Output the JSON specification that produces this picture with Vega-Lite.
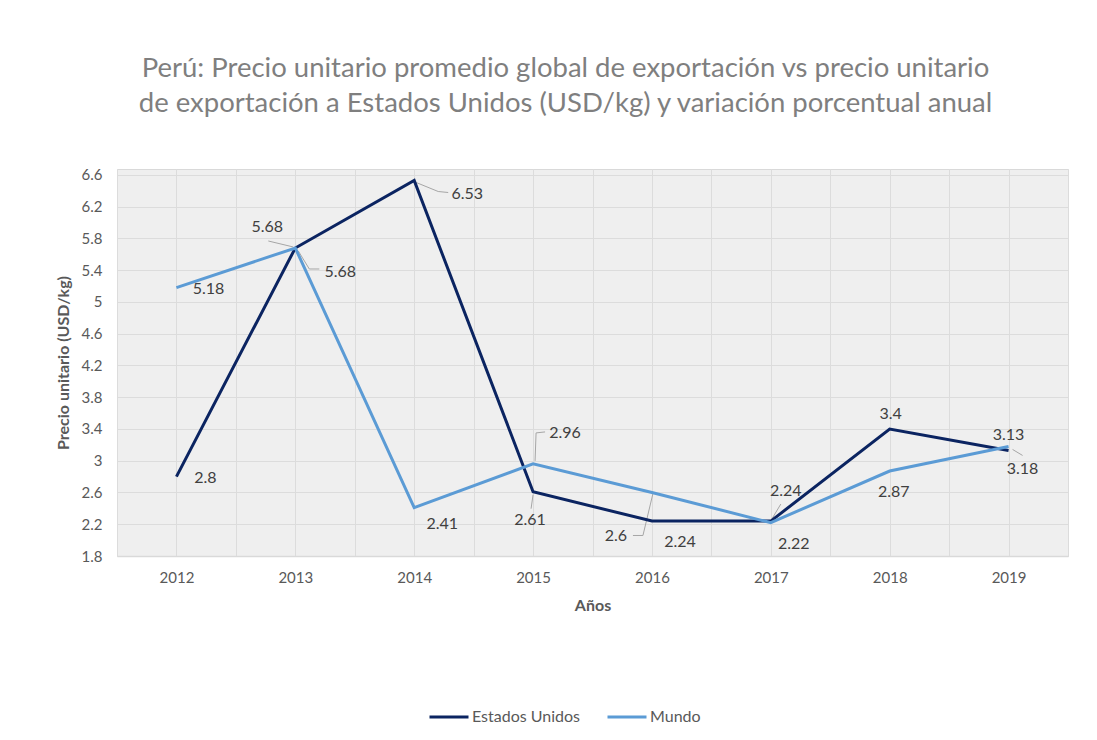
{
  "$schema": "https://vega.github.io/schema/vega-lite/v6.json",
  "width": 951,
  "height": 387,
  "autosize": {"type": "none"},
  "padding": {"left": 117, "top": 169, "right": 29, "bottom": 184},
  "background": "white",
  "config": {
    "font": "Lato",
    "view": {"fill": "#efefef", "stroke": "#d9d9d9", "strokeWidth": 1}
  },
  "title": {
    "text": ["Perú: Precio unitario promedio global de exportación vs precio unitario", "de exportación a Estados Unidos (USD/kg) y variación porcentual anual"],
    "font": "Lato",
    "fontSize": 27.5,
    "fontWeight": "normal",
    "color": "#7f7f7f",
    "lineHeight": 35,
    "anchor": "middle",
    "dx": -27,
    "offset": 50
  },
  "data": {
    "values": [
      {"year": 2012, "serie": "Estados Unidos", "valor": 2.8},
      {"year": 2013, "serie": "Estados Unidos", "valor": 5.68},
      {"year": 2014, "serie": "Estados Unidos", "valor": 6.53},
      {"year": 2015, "serie": "Estados Unidos", "valor": 2.61},
      {"year": 2016, "serie": "Estados Unidos", "valor": 2.24},
      {"year": 2017, "serie": "Estados Unidos", "valor": 2.24},
      {"year": 2018, "serie": "Estados Unidos", "valor": 3.4},
      {"year": 2019, "serie": "Estados Unidos", "valor": 3.13},
      {"year": 2012, "serie": "Mundo", "valor": 5.18},
      {"year": 2013, "serie": "Mundo", "valor": 5.68},
      {"year": 2014, "serie": "Mundo", "valor": 2.41},
      {"year": 2015, "serie": "Mundo", "valor": 2.96},
      {"year": 2016, "serie": "Mundo", "valor": 2.6},
      {"year": 2017, "serie": "Mundo", "valor": 2.22},
      {"year": 2018, "serie": "Mundo", "valor": 2.87},
      {"year": 2019, "serie": "Mundo", "valor": 3.18}
    ]
  },
  "encoding": {
    "x": {
      "field": "year",
      "type": "quantitative",
      "scale": {"domain": [2011.5, 2019.5], "nice": false, "zero": false},
      "axis": {
        "title": "Años",
        "values": [2011.5, 2012, 2012.5, 2013, 2013.5, 2014, 2014.5, 2015, 2015.5, 2016, 2016.5, 2017, 2017.5, 2018, 2018.5, 2019, 2019.5],
        "labelExpr": "datum.value % 1 == 0 ? '' + datum.value : ''",
        "labelOverlap": false,
        "labelFlush": false,
        "ticks": false,
        "grid": true,
        "gridColor": "#dcdcdc",
        "gridWidth": 1,
        "domain": true,
        "domainColor": "#d9d9d9",
        "domainWidth": 1.5,
        "labelFont": "Lato",
        "labelFontSize": 15,
        "labelColor": "#595959",
        "labelPadding": 14,
        "titleFont": "Lato",
        "titleFontSize": 16,
        "titleFontWeight": "bold",
        "titleColor": "#595959",
        "titlePadding": 12
      }
    },
    "y": {
      "field": "valor",
      "type": "quantitative",
      "scale": {"domain": [1.8, 6.675], "nice": false, "zero": false},
      "axis": {
        "title": "Precio unitario (USD/kg)",
        "values": [1.8, 2.2, 2.6, 3, 3.4, 3.8, 4.2, 4.6, 5, 5.4, 5.8, 6.2, 6.6],
        "format": ".1~f",
        "ticks": false,
        "domain": false,
        "grid": true,
        "gridColor": "#dcdcdc",
        "gridWidth": 1,
        "labelFont": "Lato",
        "labelFontSize": 15,
        "labelColor": "#595959",
        "labelPadding": 15,
        "titleFont": "Lato",
        "titleFontSize": 16,
        "titleFontWeight": "bold",
        "titleColor": "#595959",
        "titlePadding": 10
      }
    }
  },
  "layer": [
    {"transform": [{"filter": "datum.serie == 'Estados Unidos' && datum.year == 2013"}], "mark": {"type": "rule", "color": "#a6a6a6", "strokeWidth": 1, "xOffset": -27, "yOffset": -7, "x2Offset": -2, "y2Offset": -1}, "encoding": {"x2": {"field": "year"}, "y2": {"field": "valor"}}},
    {"transform": [{"filter": "datum.serie == 'Estados Unidos' && datum.year == 2014"}], "mark": {"type": "rule", "color": "#a6a6a6", "strokeWidth": 1, "xOffset": 2, "yOffset": 2, "x2Offset": 24, "y2Offset": 11}, "encoding": {"x2": {"field": "year"}, "y2": {"field": "valor"}}},
    {"transform": [{"filter": "datum.serie == 'Estados Unidos' && datum.year == 2014"}], "mark": {"type": "rule", "color": "#a6a6a6", "strokeWidth": 1, "xOffset": 24, "yOffset": 11, "x2Offset": 34, "y2Offset": 12}, "encoding": {"x2": {"field": "year"}, "y2": {"field": "valor"}}},
    {"transform": [{"filter": "datum.serie == 'Estados Unidos' && datum.year == 2015"}], "mark": {"type": "rule", "color": "#a6a6a6", "strokeWidth": 1, "xOffset": 0, "yOffset": 3, "x2Offset": -2, "y2Offset": 17}, "encoding": {"x2": {"field": "year"}, "y2": {"field": "valor"}}},
    {"transform": [{"filter": "datum.serie == 'Estados Unidos' && datum.year == 2017"}], "mark": {"type": "rule", "color": "#a6a6a6", "strokeWidth": 1, "xOffset": 1, "yOffset": -2, "x2Offset": 10, "y2Offset": -17}, "encoding": {"x2": {"field": "year"}, "y2": {"field": "valor"}}},
    {"transform": [{"filter": "datum.serie == 'Mundo' && datum.year == 2013"}], "mark": {"type": "rule", "color": "#a6a6a6", "strokeWidth": 1, "xOffset": 3, "yOffset": 3, "x2Offset": 14, "y2Offset": 21}, "encoding": {"x2": {"field": "year"}, "y2": {"field": "valor"}}},
    {"transform": [{"filter": "datum.serie == 'Mundo' && datum.year == 2013"}], "mark": {"type": "rule", "color": "#a6a6a6", "strokeWidth": 1, "xOffset": 14, "yOffset": 21, "x2Offset": 24, "y2Offset": 21}, "encoding": {"x2": {"field": "year"}, "y2": {"field": "valor"}}},
    {"transform": [{"filter": "datum.serie == 'Mundo' && datum.year == 2015"}], "mark": {"type": "rule", "color": "#a6a6a6", "strokeWidth": 1, "xOffset": 2, "yOffset": -3, "x2Offset": 3, "y2Offset": -31}, "encoding": {"x2": {"field": "year"}, "y2": {"field": "valor"}}},
    {"transform": [{"filter": "datum.serie == 'Mundo' && datum.year == 2015"}], "mark": {"type": "rule", "color": "#a6a6a6", "strokeWidth": 1, "xOffset": 3, "yOffset": -31, "x2Offset": 12, "y2Offset": -32}, "encoding": {"x2": {"field": "year"}, "y2": {"field": "valor"}}},
    {"transform": [{"filter": "datum.serie == 'Mundo' && datum.year == 2016"}], "mark": {"type": "rule", "color": "#a6a6a6", "strokeWidth": 1, "xOffset": 1, "yOffset": 1, "x2Offset": -9, "y2Offset": 43}, "encoding": {"x2": {"field": "year"}, "y2": {"field": "valor"}}},
    {"transform": [{"filter": "datum.serie == 'Mundo' && datum.year == 2016"}], "mark": {"type": "rule", "color": "#a6a6a6", "strokeWidth": 1, "xOffset": -9, "yOffset": 43, "x2Offset": -19, "y2Offset": 43}, "encoding": {"x2": {"field": "year"}, "y2": {"field": "valor"}}},
    {"transform": [{"filter": "datum.serie == 'Mundo' && datum.year == 2019"}], "mark": {"type": "rule", "color": "#a6a6a6", "strokeWidth": 1, "xOffset": 4, "yOffset": 3, "x2Offset": 14, "y2Offset": 9}, "encoding": {"x2": {"field": "year"}, "y2": {"field": "valor"}}},
    {
      "mark": {"type": "line", "strokeWidth": 3},
      "encoding": {
        "color": {
          "field": "serie",
          "type": "nominal",
          "scale": {"domain": ["Estados Unidos", "Mundo"], "range": ["#0b2461", "#5b9bd5"]},
          "legend": {
            "title": null,
            "orient": "none",
            "legendX": 311,
            "legendY": 527,
            "direction": "horizontal",
            "symbolType": "stroke",
            "symbolSize": 1521,
            "symbolStrokeWidth": 3,
            "labelFont": "Lato",
            "labelFontSize": 16,
            "labelColor": "#595959",
            "labelOffset": 2,
            "columnPadding": 20
          }
        }
      }
    },
    {"transform": [{"filter": "datum.serie == 'Estados Unidos' && datum.year == 2012"}], "mark": {"type": "text", "dx": 29, "dy": 1, "fontSize": 16, "color": "#404040", "align": "center", "baseline": "middle"}, "encoding": {"text": {"field": "valor", "type": "nominal"}}},
    {"transform": [{"filter": "datum.serie == 'Estados Unidos' && datum.year == 2013"}], "mark": {"type": "text", "dx": -28, "dy": -21, "fontSize": 16, "color": "#404040", "align": "center", "baseline": "middle"}, "encoding": {"text": {"field": "valor", "type": "nominal"}}},
    {"transform": [{"filter": "datum.serie == 'Estados Unidos' && datum.year == 2014"}], "mark": {"type": "text", "dx": 53, "dy": 13, "fontSize": 16, "color": "#404040", "align": "center", "baseline": "middle"}, "encoding": {"text": {"field": "valor", "type": "nominal"}}},
    {"transform": [{"filter": "datum.serie == 'Estados Unidos' && datum.year == 2015"}], "mark": {"type": "text", "dx": -3, "dy": 28, "fontSize": 16, "color": "#404040", "align": "center", "baseline": "middle"}, "encoding": {"text": {"field": "valor", "type": "nominal"}}},
    {"transform": [{"filter": "datum.serie == 'Estados Unidos' && datum.year == 2016"}], "mark": {"type": "text", "dx": 28, "dy": 21, "fontSize": 16, "color": "#404040", "align": "center", "baseline": "middle"}, "encoding": {"text": {"field": "valor", "type": "nominal"}}},
    {"transform": [{"filter": "datum.serie == 'Estados Unidos' && datum.year == 2017"}], "mark": {"type": "text", "dx": 15, "dy": -30, "fontSize": 16, "color": "#404040", "align": "center", "baseline": "middle"}, "encoding": {"text": {"field": "valor", "type": "nominal"}}},
    {"transform": [{"filter": "datum.serie == 'Estados Unidos' && datum.year == 2018"}], "mark": {"type": "text", "dx": 1, "dy": -15, "fontSize": 16, "color": "#404040", "align": "center", "baseline": "middle"}, "encoding": {"text": {"field": "valor", "type": "nominal"}}},
    {"transform": [{"filter": "datum.serie == 'Estados Unidos' && datum.year == 2019"}], "mark": {"type": "text", "dx": 0, "dy": -15, "fontSize": 16, "color": "#404040", "align": "center", "baseline": "middle"}, "encoding": {"text": {"field": "valor", "type": "nominal"}}},
    {"transform": [{"filter": "datum.serie == 'Mundo' && datum.year == 2012"}], "mark": {"type": "text", "dx": 32, "dy": 1, "fontSize": 16, "color": "#404040", "align": "center", "baseline": "middle"}, "encoding": {"text": {"field": "valor", "type": "nominal"}}},
    {"transform": [{"filter": "datum.serie == 'Mundo' && datum.year == 2013"}], "mark": {"type": "text", "dx": 45, "dy": 24, "fontSize": 16, "color": "#404040", "align": "center", "baseline": "middle"}, "encoding": {"text": {"field": "valor", "type": "nominal"}}},
    {"transform": [{"filter": "datum.serie == 'Mundo' && datum.year == 2014"}], "mark": {"type": "text", "dx": 28, "dy": 16, "fontSize": 16, "color": "#404040", "align": "center", "baseline": "middle"}, "encoding": {"text": {"field": "valor", "type": "nominal"}}},
    {"transform": [{"filter": "datum.serie == 'Mundo' && datum.year == 2015"}], "mark": {"type": "text", "dx": 32, "dy": -31, "fontSize": 16, "color": "#404040", "align": "center", "baseline": "middle"}, "encoding": {"text": {"field": "valor", "type": "nominal"}}},
    {"transform": [{"filter": "datum.serie == 'Mundo' && datum.year == 2016"}], "mark": {"type": "text", "dx": -36, "dy": 44, "fontSize": 16, "color": "#404040", "align": "center", "baseline": "middle"}, "encoding": {"text": {"field": "valor", "type": "nominal"}}},
    {"transform": [{"filter": "datum.serie == 'Mundo' && datum.year == 2017"}], "mark": {"type": "text", "dx": 23, "dy": 21, "fontSize": 16, "color": "#404040", "align": "center", "baseline": "middle"}, "encoding": {"text": {"field": "valor", "type": "nominal"}}},
    {"transform": [{"filter": "datum.serie == 'Mundo' && datum.year == 2018"}], "mark": {"type": "text", "dx": 4, "dy": 21, "fontSize": 16, "color": "#404040", "align": "center", "baseline": "middle"}, "encoding": {"text": {"field": "valor", "type": "nominal"}}},
    {"transform": [{"filter": "datum.serie == 'Mundo' && datum.year == 2019"}], "mark": {"type": "text", "dx": 14, "dy": 23, "fontSize": 16, "color": "#404040", "align": "center", "baseline": "middle"}, "encoding": {"text": {"field": "valor", "type": "nominal"}}}
  ]
}
